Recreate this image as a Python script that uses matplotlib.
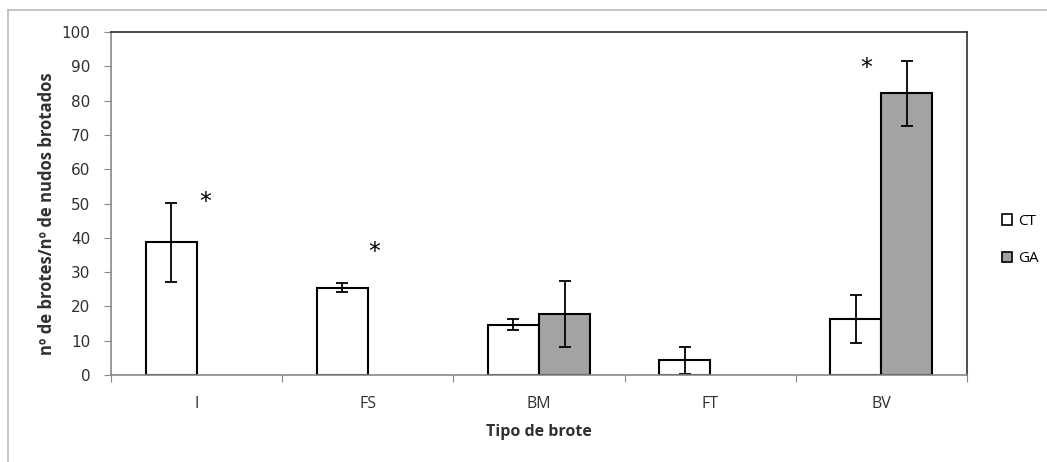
import matplotlib
matplotlib.use("Agg")
import matplotlib.pyplot as plt
import numpy as np
from matplotlib.lines import Line2D
from matplotlib.patches import Patch

categories = ["I", "FS", "BM", "FT", "BV"]
ct_values = [38.7, 25.4, 14.7, 4.3, 16.4]
ct_errors = [11.5, 1.3, 1.7, 3.9, 7.0]
ga_values = [np.nan, np.nan, 17.7, np.nan, 82.1]
ga_errors = [np.nan, np.nan, 9.6, np.nan, 9.5]
star_cat = [0, 1, 4]
star_y = [50.5, 36.0, 89.5]
star_dx = [0.05, 0.04, -0.09]
yticks = [0, 10, 20, 30, 40, 50, 60, 70, 80, 90, 100]

fig = plt.figure(figsize=(10.47, 4.62), dpi=100)
ax = fig.add_axes([111/1047, 1-375/462, (967-111)/1047, (375-32)/462])

x = np.arange(len(categories))
w = 0.298
err_kw = dict(ecolor="black", elinewidth=1.3, capsize=4, capthick=1.3)
ax.bar(x - w/2, ct_values, w, yerr=ct_errors, color="white", edgecolor="black",
       linewidth=1.5, error_kw=err_kw, label="CT", zorder=2)
ax.bar(x + w/2, ga_values, w, yerr=ga_errors, color="#a3a3a3", edgecolor="black",
       linewidth=1.5, error_kw=err_kw, label="GA", zorder=2)

for c, yv, dx in zip(star_cat, star_y, star_dx):
    ax.text(c + dx, yv, "*", fontsize=17, ha="center", va="center", color="black")

ax.set_xlim(-0.5, len(categories) - 0.5)
ax.set_ylim(0, 100)
ax.set_yticks(yticks)
ax.tick_params(axis="y", direction="out", length=5, color="#888888", labelsize=11,
               labelcolor="#303030", pad=10)
ax.set_xticks(np.arange(len(categories) + 1) - 0.5, minor=False)
ax.set_xticklabels([])
ax.set_xticks(x, minor=True)
ax.set_xticklabels(categories, minor=True, fontsize=11.5, color="#303030", family="Open Sans")
ax.tick_params(axis="x", which="major", direction="out", length=5, color="#888888")
ax.tick_params(axis="x", which="minor", length=0, pad=15)

for s in ["top", "right"]:
    ax.spines[s].set_color("#303030")
    ax.spines[s].set_linewidth(1.2)
for s in ["left", "bottom"]:
    ax.spines[s].set_color("#888888")
    ax.spines[s].set_linewidth(1.2)

ax.set_ylabel("nº de brotes/nº de nudos brotados", fontsize=12, fontweight="bold",
              color="#303030", family="Open Sans")
ax.yaxis.set_label_coords(-0.064, 0.47)
ax.set_xlabel("Tipo de brote", fontsize=11.5, fontweight="bold", color="#303030",
              family="Open Sans")
ax.xaxis.set_label_coords(0.5, -0.143)

handles = [Patch(facecolor="white", edgecolor="black", linewidth=1.2),
           Patch(facecolor="#a3a3a3", edgecolor="black", linewidth=1.2)]
leg = fig.legend(handles, ["CT", "GA"], loc="center left",
                 bbox_to_anchor=(988/1047, 1-240/462), frameon=False,
                 handlelength=0.7, handleheight=0.7, handletextpad=0.4,
                 labelspacing=1.5, prop={"family": "Open Sans", "size": 11})

# outer chart frame (left and top edges)
fig.add_artist(Line2D([8/1047, 8/1047], [0, 1-10/462], transform=fig.transFigure,
                      color="#bbbbbb", linewidth=1.2))
fig.add_artist(Line2D([8/1047, 1], [1-10/462, 1-10/462], transform=fig.transFigure,
                      color="#bbbbbb", linewidth=1.2))

fig.savefig("out.png", dpi=100)
